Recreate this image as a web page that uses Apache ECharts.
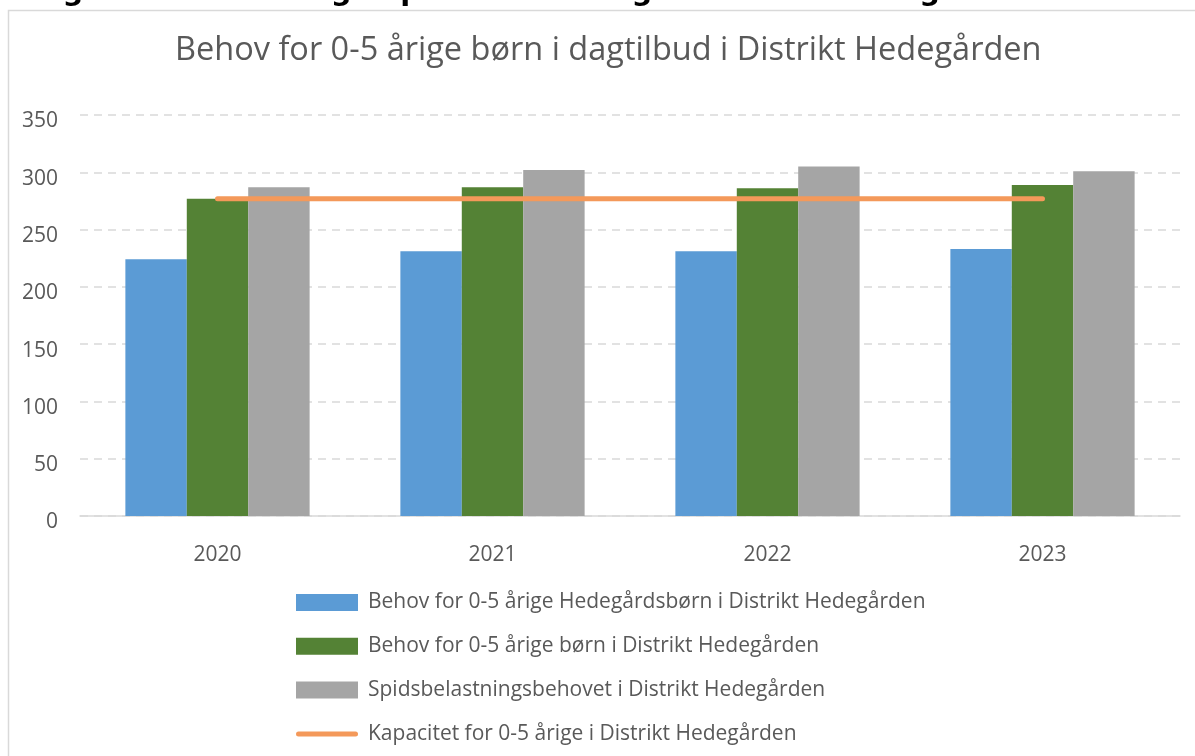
<!DOCTYPE html>
<html>
<head>
<meta charset="utf-8">
<script src="https://cdn.jsdelivr.net/npm/echarts@6/dist/echarts.min.js"></script>
<style>
html,body{margin:0;padding:0;background:#fff;}
#c{width:1195px;height:756px;}
</style>
</head>
<body>
<div id="c"></div>
<script>
const categories = ['2020', '2021', '2022', '2023'];
const seriesNames = [
  'Behov for 0-5 årige Hedegårdsbørn i Distrikt Hedegården',
  'Behov for 0-5 årige børn i Distrikt Hedegården',
  'Spidsbelastningsbehovet i Distrikt Hedegården',
  'Kapacitet for 0-5 årige i Distrikt Hedegården'
];
const hedegaardsboern = [224, 231, 231, 233];
const boernDistrikt = [277, 287, 286, 289];
const spidsbelastning = [287, 302, 305, 301];
const kapacitet = [277, 277, 277, 277];
const yTicks = { min: 0, max: 350, interval: 50 };
const headingText = 'Diagram 6: Behov og kapacitet 0-5 årige i Distrikt Hedegården';
const titleText = 'Behov for 0-5 årige børn i dagtilbud i Distrikt Hedegården';

const FONT = '"Open Sans", sans-serif';
const chart = echarts.init(document.getElementById('c'), null, { renderer: 'canvas' });
chart.setOption({
  backgroundColor: '#fff',
  animation: false,
  graphic: [
    { type: 'rect', shape: { x: 8.5, y: 10.5, width: 1300, height: 900 },
      style: { fill: 'none', stroke: '#d9d9d9', lineWidth: 1.5 }, z: -10 },
    { type: 'text', left: 9, top: -22,
      style: { text: headingText, font: 'bold 29px "DejaVu Sans", sans-serif', fill: '#000' } }
  ],
  title: {
    text: titleText, left: 170, top: 29,
    textStyle: { fontFamily: FONT, fontSize: 32.5, fontWeight: 'normal', color: '#595959' }
  },
  legend: {
    orient: 'vertical', left: 296, top: 592, height: 170, padding: 0,
    itemWidth: 62, itemHeight: 17, itemGap: 22.8,
    textStyle: { fontFamily: FONT, fontSize: 21, color: '#595959', lineHeight: 20, padding: [0, 0, 0, 5] },
    data: [
      { name: seriesNames[0], icon: 'rect' },
      { name: seriesNames[1], icon: 'rect' },
      { name: seriesNames[2], icon: 'rect' },
      { name: seriesNames[3], icon: 'path://M2.5,0 H59.5 A2.5,2.5 0 0 1 59.5,5 H2.5 A2.5,2.5 0 0 1 2.5,0 Z' }
    ]
  },
  grid: { left: 80, right: 15, top: 115, bottom: 240 },
  xAxis: {
    type: 'category', data: categories,
    axisLine: { lineStyle: { color: '#d9d9d9', width: 1.5 } },
    axisTick: { show: false },
    axisLabel: { fontFamily: FONT, fontSize: 21, color: '#595959', margin: 29 }
  },
  yAxis: {
    type: 'value', min: yTicks.min, max: yTicks.max, interval: yTicks.interval,
    axisLine: { show: false }, axisTick: { show: false },
    axisLabel: { fontFamily: FONT, fontSize: 21, color: '#595959', margin: 22,
      verticalAlign: 'top', lineHeight: 13 },
    splitLine: { lineStyle: { color: '#d9d9d9', type: [8, 6], width: 1.5 } }
  },
  series: [
    { name: seriesNames[0], type: 'bar', data: hedegaardsboern, barGap: '0%', barCategoryGap: '33%',
      itemStyle: { color: '#5b9bd5' } },
    { name: seriesNames[1], type: 'bar', data: boernDistrikt, barGap: '0%', barCategoryGap: '33%',
      itemStyle: { color: '#548235' } },
    { name: seriesNames[2], type: 'bar', data: spidsbelastning, barGap: '0%', barCategoryGap: '33%',
      itemStyle: { color: '#a5a5a5' } },
    { name: seriesNames[3], type: 'line', data: kapacitet, symbol: 'none',
      lineStyle: { color: '#f4995a', width: 5, cap: 'round' }, itemStyle: { color: '#f4995a' }, z: 5 }
  ]
});
</script>
</body>
</html>
